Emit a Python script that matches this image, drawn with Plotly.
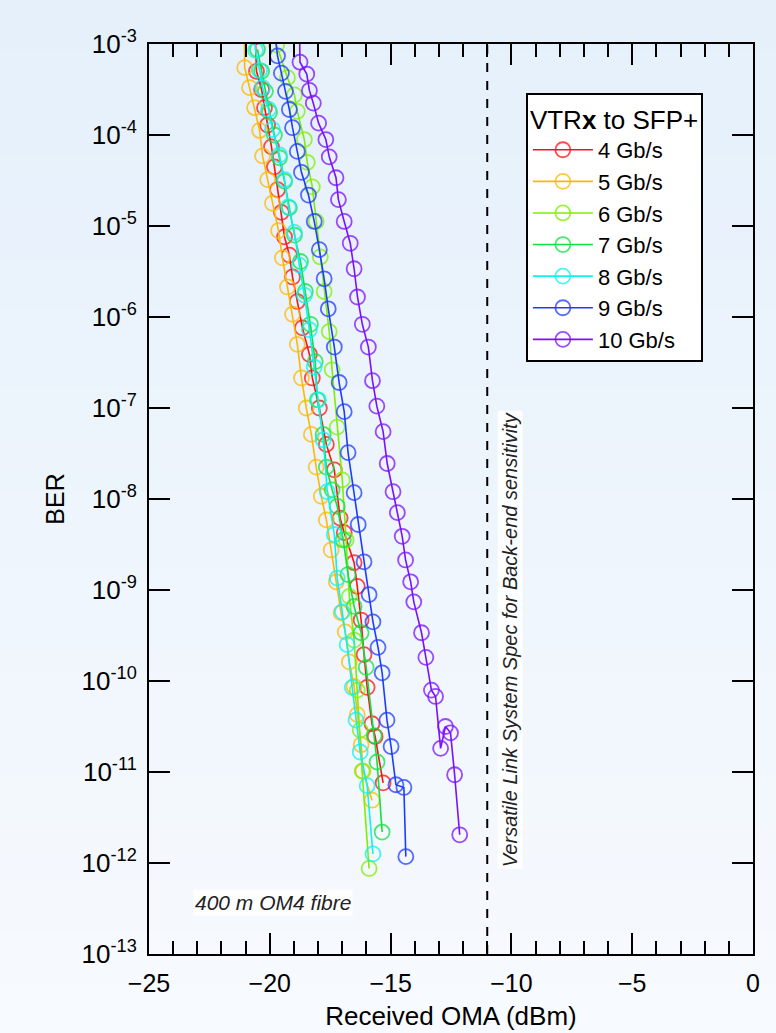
import plotly.graph_objects as go

# ---------------- data ----------------
rates = ["4 Gb/s", "5 Gb/s", "6 Gb/s", "7 Gb/s", "8 Gb/s", "9 Gb/s", "10 Gb/s"]
colors = ["#FF1010", "#FFB800", "#7CF000", "#10E040", "#10F0F0", "#1E3CFF", "#7A10FF"]

oma_4g = [-20.60, -20.55, -20.34, -20.22, -20.09, -19.93, -19.81, -19.68, -19.52, -19.39, -19.19,
          -19.06, -18.86, -18.65, -18.36, -18.24, -17.95, -17.66, -17.33, -17.09, -16.92, -16.51,
          -16.38, -16.22, -16.10, -15.97, -15.77, -15.64, -15.31]
log_ber_4g = [-2.92, -3.30, -3.50, -3.70, -3.89, -4.13, -4.35, -4.60, -4.85, -5.12, -5.32,
              -5.56, -5.83, -6.12, -6.41, -6.67, -7.00, -7.40, -7.68, -8.21, -8.37, -8.70,
              -8.96, -9.33, -9.71, -10.07, -10.47, -10.61, -11.12]

oma_5g = [-21.05, -21.04, -20.84, -20.63, -20.42, -20.30, -20.09, -19.89, -19.64, -19.48, -19.27,
          -19.06, -18.86, -18.69, -18.49, -18.28, -18.08, -17.87, -17.66, -17.46, -17.25, -17.05,
          -16.88, -16.71, -16.51, -16.38, -16.22, -16.14, -15.77]
log_ber_5g = [-2.85, -3.26, -3.48, -3.70, -3.95, -4.23, -4.49, -4.75, -5.05, -5.35, -5.67,
              -5.97, -6.30, -6.67, -7.00, -7.29, -7.65, -7.97, -8.23, -8.56, -8.91, -9.25,
              -9.46, -9.79, -10.06, -10.37, -10.70, -10.99, -11.31]

oma_6g = [-19.72, -19.27, -18.98, -18.86, -18.57, -18.45, -18.24, -18.08, -17.91, -17.75, -17.54,
          -17.42, -17.21, -17.00, -16.84, -16.71, -16.51, -16.38, -16.26, -16.18, -15.89]
log_ber_6g = [-3.01, -3.37, -3.56, -3.74, -4.05, -4.30, -4.57, -4.95, -5.34, -5.72, -6.16,
              -6.58, -7.21, -7.79, -8.45, -9.07, -9.55, -10.10, -10.54, -10.99, -12.06]

oma_7g = [-20.51, -20.34, -20.18, -20.01, -19.81, -19.60, -19.39, -19.19, -18.98, -18.73, -18.53,
          -18.32, -18.12, -18.03, -17.79, -17.66, -17.42, -17.21, -16.96, -16.76, -16.51, -16.22,
          -16.01, -15.68, -15.56, -15.35]
log_ber_7g = [-3.06, -3.30, -3.52, -3.75, -4.00, -4.25, -4.51, -4.80, -5.10, -5.39, -5.72,
              -6.08, -6.49, -6.91, -7.29, -7.65, -7.90, -8.08, -8.45, -8.83, -9.18, -9.47,
              -9.85, -10.60, -10.89, -11.66]

oma_8g = [-20.65, -20.59, -20.42, -20.30, -20.05, -19.89, -19.60, -19.39, -19.23, -18.98, -18.78,
          -18.57, -18.36, -18.16, -17.99, -17.79, -17.62, -17.33, -17.21, -17.00, -16.80, -16.59,
          -16.43, -16.26, -15.97, -15.73]
log_ber_8g = [-2.88, -3.07, -3.29, -3.48, -3.72, -3.94, -4.22, -4.49, -4.79, -5.07, -5.43,
              -5.76, -6.14, -6.55, -6.91, -7.35, -7.92, -8.39, -8.87, -9.24, -9.60, -10.07,
              -10.43, -10.78, -11.15, -11.90]

oma_9g = [-19.80, -19.68, -19.52, -19.35, -19.19, -19.06, -18.86, -18.69, -18.40, -18.16, -17.95,
          -17.75, -17.58, -17.33, -17.13, -16.92, -16.76, -16.51, -16.34, -16.10, -15.89, -15.73,
          -15.52, -15.35, -15.15, -14.98, -14.78, -14.45, -14.37]
log_ber_9g = [-2.87, -3.13, -3.32, -3.52, -3.72, -3.92, -4.18, -4.41, -4.66, -4.95, -5.26,
              -5.58, -5.91, -6.33, -6.72, -7.04, -7.49, -7.93, -8.28, -8.69, -9.05, -9.35,
              -9.63, -9.91, -10.43, -10.72, -11.14, -11.17, -11.93]

oma_10g = [-18.77, -18.75, -18.47, -18.36, -18.20, -17.98, -17.68, -17.54, -17.26, -17.16, -16.92,
           -16.67, -16.51, -16.37, -16.17, -15.92, -15.75, -15.57, -15.31, -15.14, -14.90, -14.72,
           -14.52, -14.38, -14.17, -14.04, -13.72, -13.54, -13.31, -13.14, -12.93, -12.73, -12.52,
           -12.35, -12.14]
log_ber_10g = [-2.85, -3.20, -3.33, -3.51, -3.65, -3.87, -4.05, -4.24, -4.47, -4.71, -4.95,
               -5.19, -5.47, -5.78, -6.08, -6.33, -6.70, -6.98, -7.26, -7.61, -7.92, -8.15,
               -8.41, -8.67, -8.91, -9.13, -9.47, -9.74, -10.10, -10.17, -10.74, -10.50, -10.57,
               -11.03, -11.69]

series_oma = [oma_4g, oma_5g, oma_6g, oma_7g, oma_8g, oma_9g, oma_10g]
series_log_ber = [log_ber_4g, log_ber_5g, log_ber_6g, log_ber_7g, log_ber_8g, log_ber_9g, log_ber_10g]

y_exponents = list(range(-13, -2))
y_tickvals = [10.0 ** e for e in y_exponents]
y_ticktext = ["10<sup>%d</sup>" % e for e in y_exponents]

spec_sensitivity = -11.0
legend_title = "VTR<b>x</b> to SFP+"
fibre_label = "400 m OM4 fibre"
spec_label = "Versatile Link System Spec for Back-end sensitivity"

FONT = "Liberation Sans, Arial, Helvetica, sans-serif"

# ---------------- figure ----------------
fig = go.Figure()

for name, col, xs, ls in zip(rates, colors, series_oma, series_log_ber):
    fig.add_trace(go.Scatter(
        x=xs, y=[10.0 ** v for v in ls], name=name, mode="lines+markers",
        line=dict(color=col, width=1.6),
        marker=dict(symbol="circle-open", size=15, color=col, opacity=0.75,
                    line=dict(width=1.8, color=col)),
    ))

# background gradient (light blue at top, almost white at bottom)
n_bands = 40
top_rgb = (229, 240, 251)
bot_rgb = (247, 250, 254)
shapes = []
y_lo, y_hi = -0.09, 1.05
for i in range(n_bands):
    t = i / (n_bands - 1)
    r = round(bot_rgb[0] + (top_rgb[0] - bot_rgb[0]) * t)
    g = round(bot_rgb[1] + (top_rgb[1] - bot_rgb[1]) * t)
    b = round(bot_rgb[2] + (top_rgb[2] - bot_rgb[2]) * t)
    y0 = y_lo + (y_hi - y_lo) * i / n_bands
    y1 = y_lo + (y_hi - y_lo) * (i + 1) / n_bands + 0.002
    shapes.append(dict(type="rect", xref="paper", yref="paper", x0=-0.3, x1=1.1,
                       y0=y0, y1=y1, layer="below", line=dict(width=0),
                       fillcolor="rgb(%d,%d,%d)" % (r, g, b)))

# spec line
shapes.append(dict(type="line", xref="x", yref="paper", x0=spec_sensitivity, x1=spec_sensitivity,
                   y0=0, y1=1, line=dict(color="black", width=2, dash="dash")))

fig.update_layout(
    width=776, height=1033,
    margin=dict(l=149, r=23, t=44, b=79, autoexpand=False),
    paper_bgcolor="rgb(238,245,252)",
    plot_bgcolor="rgba(0,0,0,0)",
    font=dict(family=FONT, color="black"),
    shapes=shapes,
    showlegend=True,
    legend=dict(
        title=dict(text=legend_title, font=dict(size=26, family=FONT), side="top"),
        font=dict(size=22, family=FONT),
        x=0.624, y=0.946, xanchor="left", yanchor="top",
        bgcolor="white", bordercolor="black", borderwidth=2,
        itemwidth=60, tracegroupgap=0,
    ),
    annotations=[
        dict(text="<i>" + fibre_label + "</i>", x=-19.87, y=-12.43, xref="x", yref="y",
             showarrow=False, font=dict(size=21, family=FONT, color="#222222"),
             bgcolor="rgba(255,255,255,0.85)", borderpad=1),
        dict(text="<i>" + spec_label + "</i>", x=-10.05, y=-9.55, xref="x", yref="y",
             textangle=-90, showarrow=False, font=dict(size=20, family=FONT, color="#222222"),
             bgcolor="rgba(255,255,255,0.85)", borderpad=1),
    ],
)

fig.update_xaxes(
    range=[-25, 0], tick0=0, dtick=5, ticks="inside", ticklen=21, tickwidth=2,
    tickcolor="black", showline=True, linewidth=2, linecolor="black", mirror="ticks",
    showgrid=False, zeroline=False, automargin=False, ticklabelstandoff=6,
    minor=dict(dtick=1, ticks="inside", ticklen=13, tickwidth=2, tickcolor="black", showgrid=False),
    tickfont=dict(size=25, family=FONT),
    title=dict(text="Received OMA (dBm)", font=dict(size=26, family=FONT), standoff=11),
)
fig.update_yaxes(
    type="log", range=[-13, -3], tickmode="array", tickvals=y_tickvals, ticktext=y_ticktext,
    ticks="inside", ticklen=21, tickwidth=2, tickcolor="black",
    showline=True, linewidth=2, linecolor="black", mirror="ticks",
    showgrid=False, zeroline=False, automargin=False, ticklabelstandoff=5,
    tickfont=dict(size=26, family=FONT),
    title=dict(text="BER", font=dict(size=25, family=FONT), standoff=10),
)

fig.write_html(
    "out.html",
    config={"displayModeBar": False},
    post_script="document.body.style.margin='0';document.body.style.padding='0';"
                "document.body.style.overflow='hidden';",
)
